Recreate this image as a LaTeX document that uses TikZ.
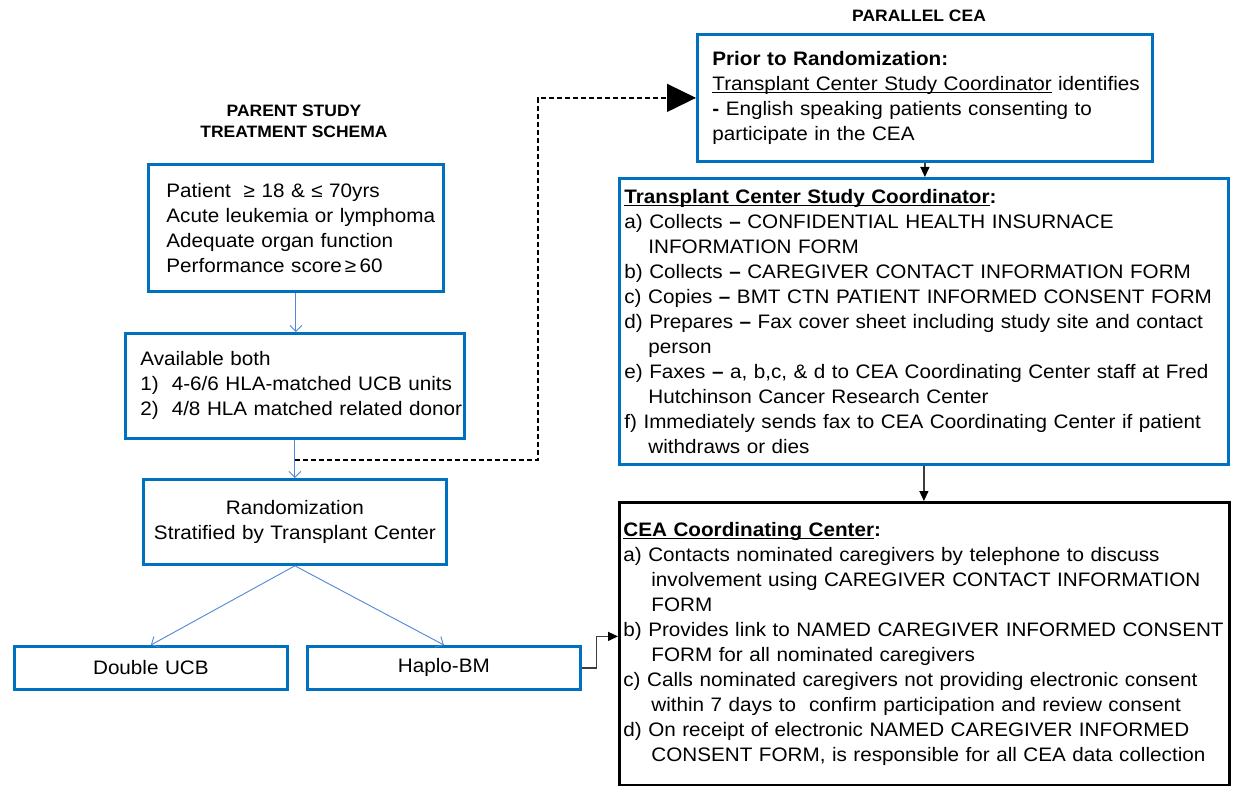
\documentclass[tikz,border=0pt]{standalone}
\usepackage{fontspec}
\setmainfont{Liberation Sans}[FakeStretch=1.06]
\usetikzlibrary{arrows.meta,calc}
\definecolor{boxblue}{RGB}{0,112,192}
\definecolor{arrblue}{RGB}{80,135,215}
\definecolor{darkline}{RGB}{60,60,60}
\newcommand{\bodyfont}{\fontsize{19.5}{25}\selectfont}
\newcommand{\headfont}{\fontsize{16.5}{21}\selectfont\bfseries}
\newcommand{\ulr}[1]{\leavevmode\setbox0\hbox{#1}\rlap{\rule[-2.8pt]{\wd0}{1.3pt}}\box0\relax}
\newcommand{\ulb}[1]{\leavevmode\setbox0\hbox{#1}\rlap{\rule[-3pt]{\wd0}{1.8pt}}\box0\relax}
\newcommand{\hi}[1]{\par\hangindent=#1\hangafter=1\relax}
\begin{document}
\begin{tikzpicture}[x=1pt,y=-1pt,
  bbox/.style={draw=boxblue, line width=2.8pt, inner sep=0pt, anchor=north west, font=\bodyfont},
  lbox/.style={bbox, align=left},
  cbox/.style={bbox, align=center},
  thinarr/.style={draw=arrblue, line width=0.9pt, -{Straight Barb[length=6pt,width=12pt]}},
  dashconn/.style={draw=black, line width=1.4pt, dash pattern=on 5pt off 3pt, -{Triangle[length=29pt,width=28pt]}},
  darkconn/.style={draw=darkline, line width=1.3pt, -{Triangle[length=10pt,width=9pt,black]}},
  head/.style={font=\headfont, align=center}
]
\useasboundingbox (0,0) rectangle (1233,786);
\fill[white] (0,0) rectangle (1233,786);

\node[head] (parent) at (294,121) {PARENT STUDY\\TREATMENT SCHEMA};
\node[head] (parallel) at (919,16) {PARALLEL CEA};

\node[lbox, text width=295pt, minimum height=127pt] (patient) at (147,163)
 {\leftskip=18pt Patient\ \ ≥ 18 \& ≤ 70yrs\\Acute leukemia or lymphoma\\Adequate organ function\\Performance score\,≥\,60\par};

\node[lbox, text width=339pt, minimum height=105pt] (avail) at (124,332)
 {\leftskip=15pt Available both\\1)\ \ 4-6/6 HLA-matched UCB units\\2)\ \ 4/8 HLA matched related donor\par};

\node[cbox, text width=303pt, minimum height=85pt] (rand) at (142,478)
 {Randomization\\Stratified by Transplant Center};

\node[cbox, text width=273pt, minimum height=43pt] (ducb) at (13,645) {Double UCB};
\node[cbox, text width=273pt, minimum height=43pt] (haplo) at (306,645) {Haplo-BM};

\node[lbox, text width=455pt, minimum height=127pt] (prior) at (696,33)
 {\leftskip=15pt \textbf{Prior to Randomization:}\\\ulr{Transplant Center Study Coordinator} identifies\\\textbf{-} English speaking patients consenting to\\participate in the CEA\par};

\node[lbox, text width=609pt, minimum height=286pt] (tcsc) at (618,177)
 {\leftskip=5pt \textbf{\ulb{Transplant Center Study Coordinator}:}%
 \hi{24pt}a) Collects \textbf{–} CONFIDENTIAL HEALTH INSURNACE\newline INFORMATION FORM%
 \hi{24pt}b) Collects \textbf{–} CAREGIVER CONTACT INFORMATION FORM%
 \hi{24pt}c) Copies \textbf{–} BMT CTN PATIENT INFORMED CONSENT FORM%
 \hi{24pt}d) Prepares \textbf{–} Fax cover sheet including study site and contact\newline person%
 \hi{24pt}e) Faxes \textbf{–} a, b,c, \& d to CEA Coordinating Center staff at Fred\newline Hutchinson Cancer Research Center%
 \hi{24pt}f) Immediately sends fax to CEA Coordinating Center if patient\newline withdraws or dies\par};

\node[lbox, draw=black, text width=610pt, minimum height=283pt] (cea) at (618,501)
 {\leftskip=4pt \textbf{\ulb{CEA Coordinating Center}:}%
 \hi{28pt}a) Contacts nominated caregivers by telephone to discuss\newline involvement using CAREGIVER CONTACT INFORMATION\newline FORM%
 \hi{28pt}b) Provides link to NAMED CAREGIVER INFORMED CONSENT\newline FORM for all nominated caregivers%
 \hi{28pt}c) Calls nominated caregivers not providing electronic consent\newline within 7 days to\ \ confirm participation and review consent%
 \hi{28pt}d) On receipt of electronic NAMED CAREGIVER INFORMED\newline CONSENT FORM, is responsible for all CEA data collection\par};

\draw[thinarr] (patient.south) -- (patient.south |- avail.north);
\draw[thinarr] (avail.south) -- (rand.north);
\coordinate (dstart) at ($(avail.south)+(0,20)$);
\draw[dashconn] (dstart) -- ++(243,0) |- (prior.west);
\draw[thinarr] (rand.south) -- (ducb.north);
\draw[thinarr] (rand.south) -- (haplo.north);
\draw[darkconn] (haplo.east) -- ++(15,0) |- ($(cea.west)+(0,-7.5)$);
\draw[darkconn] (prior.south) -- (prior.south |- tcsc.north);
\draw[darkconn] (tcsc.south) -- (tcsc.south |- cea.north);
\end{tikzpicture}
\end{document}
